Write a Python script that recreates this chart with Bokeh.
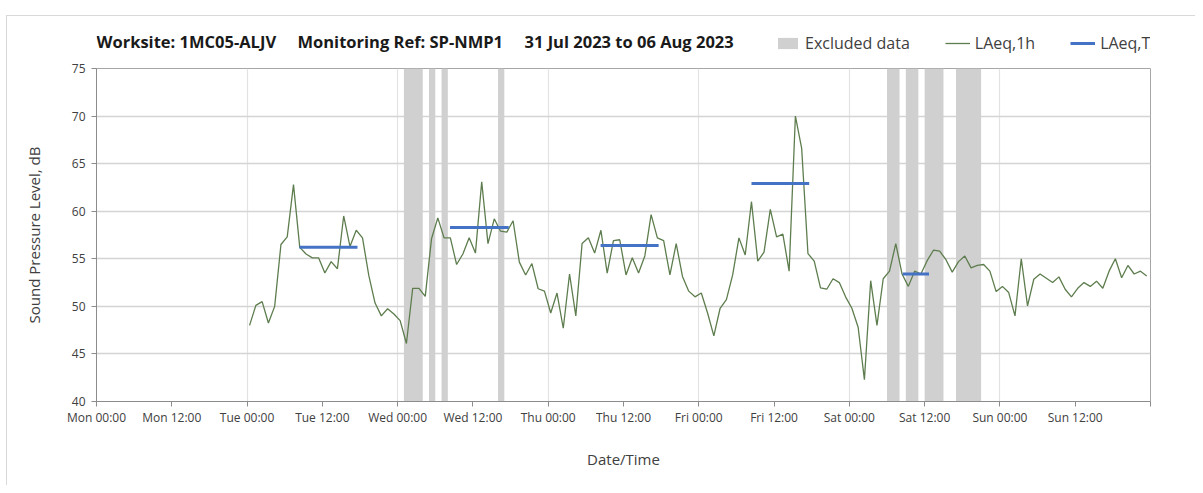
from bokeh.plotting import figure
from bokeh.layouts import column
from bokeh.models import ColumnDataSource, FixedTicker, Legend, LegendItem, Label, Range1d
from bokeh.embed import file_html
from bokeh.resources import INLINE

# ---------------- data ----------------
# hourly LAeq,1h values (dB) per day, Tue 01 Aug .. Sun 06 Aug 2023
laeq_tue = [48.0, 50.1, 50.5, 48.25, 50.0, 56.5, 57.3, 62.8, 56.2, 55.5, 55.1, 55.1,
            53.5, 54.7, 53.95, 59.5, 56.3, 58.0, 57.2, 53.25, 50.35, 49.0, 49.75, 49.2]
laeq_wed = [48.5, 46.1, 51.9, 51.9, 51.05, 57.1, 59.3, 57.2, 57.2, 54.4, 55.5, 57.2,
            55.6, 63.1, 56.6, 59.2, 57.9, 57.8, 59.0, 54.65, 53.3, 54.5, 51.85, 51.6]
laeq_thu = [49.3, 51.4, 47.7, 53.4, 49.0, 56.6, 57.2, 55.6, 58.0, 53.5, 56.9, 57.0,
            53.3, 55.1, 53.5, 55.3, 59.65, 57.2, 56.9, 53.3, 56.6, 53.15, 51.6, 51.0]
laeq_fri = [51.4, 49.3, 46.9, 49.8, 50.7, 53.3, 57.2, 55.4, 61.0, 54.75, 55.7, 60.2,
            57.3, 57.6, 53.7, 70.0, 66.6, 55.55, 54.75, 51.95, 51.8, 52.9, 52.5, 51.0]
laeq_sat = [49.8, 47.8, 42.3, 52.7, 48.0, 52.9, 53.7, 56.6, 53.4, 52.1, 53.7, 53.4,
            54.8, 55.9, 55.8, 54.9, 53.6, 54.7, 55.3, 54.05, 54.3, 54.4, 53.7, 51.55]
laeq_sun = [52.1, 51.45, 49.0, 55.0, 50.05, 52.85, 53.4, 52.95, 52.5, 53.1, 51.8, 51.0,
            51.9, 52.5, 52.1, 52.65, 51.9, 53.7, 55.0, 53.0, 54.3, 53.4, 53.7, 53.2]
first_sample_hour = 24.4          # hours after Mon 31 Jul 00:00 of the first sample

# LAeq,T period values (hours after Mon 00:00)
laeqT_start = [32.35, 56.35, 80.35, 104.4, 128.5]
laeqT_end = [41.6, 65.7, 89.6, 113.6, 132.7]
laeqT_value = [56.2, 58.3, 56.4, 62.9, 53.4]

# excluded data periods (hours after Mon 00:00)
excl_start = [49, 53, 55, 64, 126, 129, 132, 137]
excl_end = [52, 54, 56, 65, 128, 131, 135, 141]

tick_hours = list(range(0, 169, 12))
tick_labels = ["Mon 00:00", "Mon 12:00", "Tue 00:00", "Tue 12:00", "Wed 00:00", "Wed 12:00",
               "Thu 00:00", "Thu 12:00", "Fri 00:00", "Fri 12:00", "Sat 00:00", "Sat 12:00",
               "Sun 00:00", "Sun 12:00", ""]
y_ticks = [40, 45, 50, 55, 60, 65, 70, 75]

title_parts = ["Worksite: 1MC05-ALJV", "Monitoring Ref: SP-NMP1", "31 Jul 2023 to 06 Aug 2023"]
legend_labels = ["Excluded data", "LAeq,1h", "LAeq,T"]

# ---------------- styles ----------------
FONT = "Open Sans"
TXT = "#404040"
EXCL_COLOR = "#d0d0d0"
LINE_COLOR = "#5e7d4e"
T_COLOR = "#4472c4"
W = 1188
HEAD_H = 44
FRAME_W = 1054
title_x = [0, 201, 428]           # screen offsets (px) of the title parts from the frame's left

# ---------------- main plot ----------------
laeq = laeq_tue + laeq_wed + laeq_thu + laeq_fri + laeq_sat + laeq_sun
hours = [first_sample_hour + i for i in range(len(laeq))]

p = figure(width=W, height=425, output_backend="svg", toolbar_location=None,
           x_range=Range1d(0, 168), y_range=Range1d(40, 75),
           min_border_left=89, min_border_right=45, min_border_top=8, min_border_bottom=84)
p.background_fill_color = "white"
p.border_fill_color = "white"
p.outline_line_color = "#a6a6a6"
p.outline_line_width = 1

excl_src = ColumnDataSource(dict(left=excl_start, right=excl_end,
                                 bottom=[40] * len(excl_start), top=[75] * len(excl_start)))
p.quad(left="left", right="right", bottom="bottom", top="top", source=excl_src,
       fill_color=EXCL_COLOR, line_color=None)

line_src = ColumnDataSource(dict(x=hours, y=laeq))
p.line("x", "y", source=line_src, line_color=LINE_COLOR, line_width=1.3)

t_src = ColumnDataSource(dict(x0=laeqT_start, x1=laeqT_end, y=laeqT_value))
p.segment(x0="x0", y0="y", x1="x1", y1="y", source=t_src, line_color=T_COLOR, line_width=3)

p.xaxis.ticker = FixedTicker(ticks=tick_hours)
p.xaxis.major_label_overrides = {h: lab for h, lab in zip(tick_hours, tick_labels)}
p.yaxis.ticker = FixedTicker(ticks=y_ticks)
for ax in (p.xaxis[0], p.yaxis[0]):
    ax.axis_line_color = "#8c8c8c"
    ax.major_tick_line_color = "#8c8c8c"
    ax.minor_tick_line_color = None
    ax.major_tick_in = 0
    ax.major_tick_out = 5
    ax.major_label_text_font = FONT
    ax.major_label_text_font_size = "12px"
    ax.major_label_text_color = TXT
    ax.axis_label_text_font = FONT
    ax.axis_label_text_font_size = "15px"
    ax.axis_label_text_font_style = "normal"
    ax.axis_label_text_color = TXT
p.xaxis.axis_label = "Date/Time"
p.xaxis.axis_label_standoff = 20
p.xaxis.major_label_standoff = 2
p.yaxis.axis_label = "Sound Pressure Level, dB"
p.yaxis.axis_label_standoff = 25
p.yaxis.major_label_standoff = 6

p.xgrid.ticker = FixedTicker(ticks=list(range(0, 169, 24)))
p.xgrid.grid_line_color = "#e3e3e3"
p.xgrid.grid_line_width = 1.2
p.ygrid.grid_line_color = "#d4d4d4"
p.ygrid.grid_line_width = 1.5

# ---------------- header (title + legend); its frame is aligned with the plot's ----------------
h = figure(width=W, height=HEAD_H, output_backend="svg", toolbar_location=None,
           x_range=Range1d(0, FRAME_W), y_range=Range1d(0, HEAD_H),
           x_axis_type=None, y_axis_type=None, min_border=0)
h.outline_line_color = None
h.grid.visible = False
h.background_fill_color = "white"
h.border_fill_color = "white"

for tx, part in zip(title_x, title_parts):
    h.add_layout(Label(x=tx, y=HEAD_H - 25, text=part, text_font=FONT,
                       text_font_size="16.5px", text_font_style="bold", text_color="#1a1a1a",
                       text_baseline="middle", text_align="left"))

# legend keys (placed outside the header's visible range)
k_excl = h.quad(left=[-50], right=[-40], bottom=[0], top=[1], fill_color=EXCL_COLOR, line_color=None)
k_line = h.line(x=[-50, -40], y=[0, 0], line_color=LINE_COLOR, line_width=1.3)
k_t = h.line(x=[-50, -40], y=[0, 0], line_color=T_COLOR, line_width=3)
legend = Legend(items=[LegendItem(label=legend_labels[0], renderers=[k_excl]),
                       LegendItem(label=legend_labels[1], renderers=[k_line]),
                       LegendItem(label=legend_labels[2], renderers=[k_t])],
                orientation="horizontal", location=(679, 6),
                glyph_width=25, glyph_height=14, label_standoff=5, spacing=35,
                padding=0, margin=0, border_line_color=None, background_fill_alpha=0,
                label_text_font=FONT, label_text_font_size="16px", label_text_color=TXT)
h.add_layout(legend, "center")

page = column(h, p, spacing=0,
              styles={"margin-top": "15px", "margin-left": "6px",
                      "border-top": "1px solid #d9d9d9", "border-left": "1px solid #d9d9d9"})
open("out.html", "w").write(file_html(page, INLINE))
